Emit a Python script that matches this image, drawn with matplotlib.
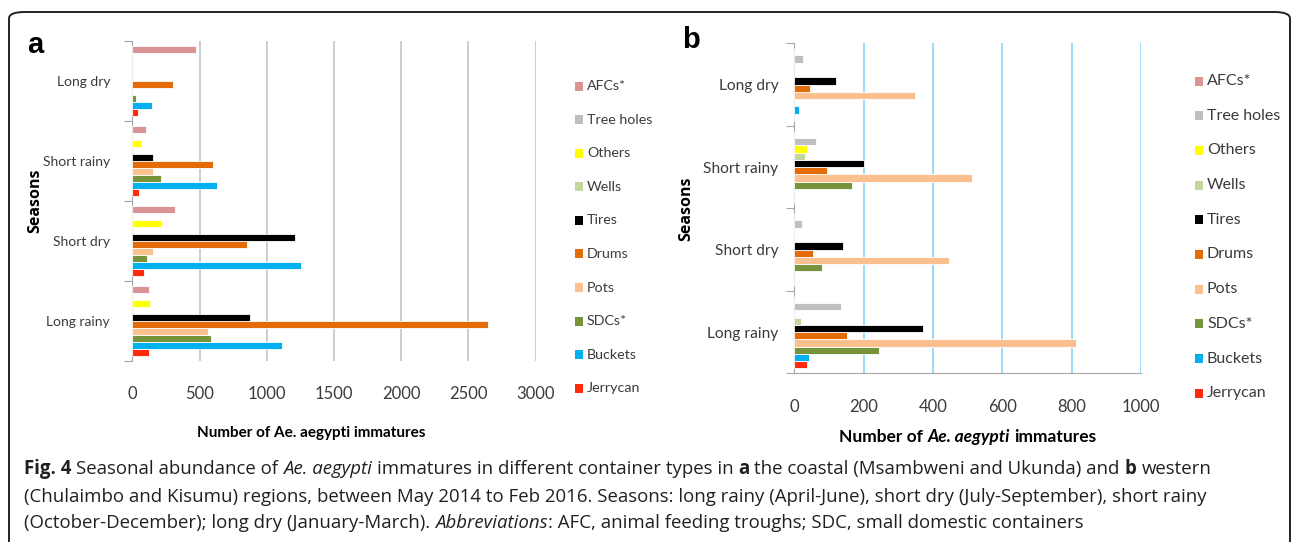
import matplotlib
matplotlib.use("Agg")
import matplotlib.pyplot as plt
import matplotlib.patches as mpatches
import numpy as np

CHART = ["Lato", "DejaVu Sans"]
CAP = ["Open Sans", "DejaVu Sans"]
plt.rcParams["font.family"] = CHART

# ---------------------------------------------------------------------
# data
# ---------------------------------------------------------------------
seasons = ["Long rainy", "Short dry", "Short rainy", "Long dry"]
containers = ["Jerrycan", "Buckets", "SDCs*", "Pots", "Drums",
              "Tires", "Wells", "Others", "Tree holes", "AFCs*"]
colors = ["#ff2a0a", "#00b0f0", "#77933c", "#fac090", "#e36c09",
          "#000000", "#c3d69b", "#ffff00", "#bfbfbf", "#d99594"]

# panel a: coastal, values per container in season order above
coastal = {
    "Jerrycan":   [122, 90, 48, 45],
    "Buckets":    [1112, 1253, 633, 149],
    "SDCs*":      [585, 109, 210, 27],
    "Pots":       [564, 154, 157, 0],
    "Drums":      [2649, 851, 598, 306],
    "Tires":      [878, 1213, 154, 0],
    "Wells":      [0, 0, 0, 0],
    "Others":     [130, 218, 66, 0],
    "Tree holes": [0, 0, 0, 0],
    "AFCs*":      [122, 317, 101, 471],
}
# panel b: western
western = {
    "Jerrycan":   [37, 0, 0, 0],
    "Buckets":    [42, 0, 0, 15],
    "SDCs*":      [244, 81, 167, 0],
    "Pots":       [812, 446, 512, 348],
    "Drums":      [153, 55, 93, 46],
    "Tires":      [371, 140, 200, 120],
    "Wells":      [19, 0, 32, 0],
    "Others":     [0, 3, 36, 0],
    "Tree holes": [134, 21, 62, 26],
    "AFCs*":      [0, 0, 0, 0],
}

TXT = "#3b3b3b"
W, H = 1292, 542
fig = plt.figure(figsize=(W / 100, H / 100), dpi=100)
fig.patch.set_facecolor("white")
renderer = fig.canvas.get_renderer()


def px_axes(left, top, right, bottom):
    return fig.add_axes([left / W, 1 - bottom / H, (right - left) / W, (bottom - top) / H])


def rich_text(x, y, parts, size, family, color="black", ha="left"):
    """Place differently styled pieces one after the other (x, y in pixels)."""
    a = fig.text(0, 0, "a a", fontsize=size, family=family)
    b = fig.text(0, 0, "aa", fontsize=size, family=family)
    sp = a.get_window_extent(renderer).width - b.get_window_extent(renderer).width
    a.remove()
    b.remove()
    texts, widths = [], []
    for txt, style, gap in parts:
        t = fig.text(0, 0, txt, fontsize=size, family=family, color=color, va="center",
                     fontweight="bold" if "b" in style else "normal",
                     fontstyle="italic" if "i" in style else "normal")
        texts.append((t, gap))
        widths.append(t.get_window_extent(renderer).width + (sp if gap else 0))
    if ha == "center":
        x -= sum(widths) / 2
    for (t, gap), w in zip(texts, widths):
        if gap:
            x += sp
            w -= sp
        t.set_position((x / W, 1 - y / H))
        x += w


def legend_at(x_sq, y_first, pitch, size):
    for i, k in enumerate(range(len(containers) - 1, -1, -1)):
        y = y_first + i * pitch
        fig.add_artist(mpatches.Rectangle(((x_sq) / W, 1 - (y + 4.5) / H), 8 / W, 9 / H,
                                          facecolor=colors[k], edgecolor="none",
                                          transform=fig.transFigure))
        fig.text((x_sq + 12) / W, 1 - y / H, containers[k], fontsize=size,
                 color=TXT, va="center", ha="left")


def draw_panel(ax, data, xmax, xstep, grid_color, bottom_spine, lab_size, lab_pad):
    n = len(containers)
    group = 0.881
    h = group / n
    y0 = np.arange(len(seasons))
    for k, name in enumerate(containers):
        ax.barh(y0 - group / 2 + h * (k + 0.5), data[name], height=h,
                color=colors[k], edgecolor="white", linewidth=0.6,
                label=name, zorder=3)
    ax.set_ylim(-0.5, len(seasons) - 0.5)
    ax.set_xlim(0, xmax)
    ax.set_xticks(np.arange(0, xmax + 1, xstep))
    ax.tick_params(axis="x", length=0, pad=18.5, labelsize=12, colors=TXT)
    # category boundaries carry the tick marks, labels sit at the centres
    ax.set_yticks(np.arange(-0.5, len(seasons)), labels=[])
    ax.set_yticks(y0, labels=seasons, minor=True)
    ax.tick_params(axis="y", which="major", length=6, color="#a6a6a6", direction="out")
    ax.tick_params(axis="y", which="minor", length=0, pad=lab_pad,
                   labelsize=lab_size, colors=TXT)
    ax.grid(axis="x", color=grid_color, linewidth=1.1, zorder=0)
    for s in ["top", "right"]:
        ax.spines[s].set_visible(False)
    ax.spines["left"].set_color("#a6a6a6")
    ax.spines["bottom"].set_color("#a6a6a6")
    ax.spines["bottom"].set_visible(bottom_spine)
    ax.set_ylabel("Seasons", fontsize=11.5, fontweight="bold", color="black",
                  family=CAP)


# ------------------------------------------------------------- panel a
ax_a = px_axes(132.3, 41.3, 535.5, 360.7)
draw_panel(ax_a, coastal, 3000, 500, "#bfbfbf", False, 10, 16)
ax_a.yaxis.set_label_coords(-0.22, 0.5)
rich_text(311, 433, [("Number of Ae. aegypti immatures", "b", 0)], 11, CHART, ha="center")
legend_at(575, 86, 33.6, 10.3)

# ------------------------------------------------------------- panel b
ax_b = px_axes(794.3, 43.3, 1140.8, 373.3)
draw_panel(ax_b, western, 1000, 200, "#7fd2f5", True, 11.2, 11.5)
ax_b.yaxis.set_label_coords(-0.29, 0.5)
rich_text(968, 437, [("Number of", "b", 0), ("Ae. aegypti", "bi", 1), ("immatures", "b", 1)],
          12.5, CHART, ha="center")
legend_at(1195, 81, 34.7, 11.5)

# panel letters
fig.text(27 / W, 1 - 45 / H, "a", fontsize=21, fontweight="bold",
         family="Liberation Sans", va="center")
fig.text(682 / W, 1 - 40 / H, "b", fontsize=21, fontweight="bold",
         family="Liberation Sans", va="center")

# frame round the whole figure
fig.add_artist(mpatches.FancyBboxPatch(
    (9 / W, -0.2), (1281 / W), 1.2 - 12 / H,
    boxstyle="round,pad=0,rounding_size=0.012", transform=fig.transFigure,
    facecolor="none", edgecolor="#222222", linewidth=1.4))

# ------------------------------------------------------------- caption
CAP_SIZE = 13.4
rich_text(24, 469, [
    ("Fig. 4", "b", 0), ("Seasonal abundance of", "", 1), ("Ae. aegypti", "i", 1),
    ("immatures in different container types in", "", 1), ("a", "b", 1),
    ("the coastal (Msambweni and Ukunda) and", "", 1), ("b", "b", 1), ("western", "", 1)],
    CAP_SIZE, CAP, color="#231f20")
rich_text(24, 497, [
    ("(Chulaimbo and Kisumu) regions, between May 2014 to Feb 2016. Seasons: long rainy "
     "(April-June), short dry (July-September), short rainy", "", 0)],
    CAP_SIZE, CAP, color="#231f20")
rich_text(24, 523, [
    ("(October-December); long dry (January-March).", "", 0), ("Abbreviations", "i", 1),
    (": AFC, animal feeding troughs; SDC, small domestic containers", "", 0)],
    CAP_SIZE, CAP, color="#231f20")

fig.savefig("out.png", dpi=100, facecolor="white")
